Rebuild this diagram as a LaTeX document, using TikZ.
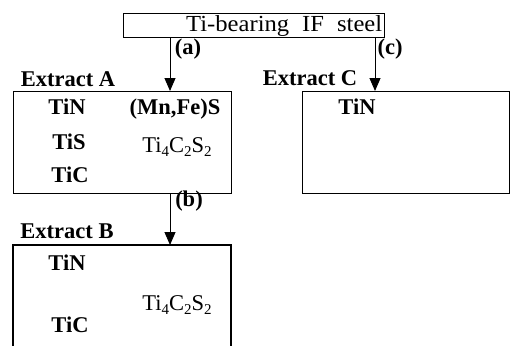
\documentclass[tikz,border=0pt]{standalone}
\usepackage{fontspec}
\setmainfont{Liberation Serif}
\usetikzlibrary{arrows.meta}
\newcommand{\sbs}[1]{\raisebox{-4.5pt}{\fontsize{15}{15}\selectfont #1}}
\newcommand{\wideword}[1]{\scalebox{1.07}[1]{#1}}
\begin{document}
\begin{tikzpicture}[x=1pt,y=-1pt,
  boxline/.style={draw, line width=1.1pt},
  bx/.style={boxline, inner sep=0pt, anchor=north west},
  lbl/.style={font=\fontsize{22.5}{24}\selectfont\bfseries, inner sep=0pt, anchor=base},
  chem/.style={font=\fontsize{22.5}{24}\selectfont\bfseries, inner sep=0pt, anchor=base},
  chemr/.style={font=\fontsize{22.5}{24}\selectfont, inner sep=0pt, anchor=base},
  topfont/.style={font=\fontsize{23}{24}\selectfont, inner sep=0pt},
  arr/.style={line width=1pt, -{Triangle[length=13pt,width=11pt]}}]
\useasboundingbox (0,0) rectangle (510,345);
% boxes
\node[bx, minimum width=261pt, minimum height=24pt] (top) at (123,13) {};
\node[bx, minimum width=218pt, minimum height=102pt] (boxA) at (13,91) {};
\node[bx, minimum width=207pt, minimum height=102pt] (boxC) at (302,91) {};
\coordinate (bNW) at (13,245);
\coordinate (bNE) at (231,245);
\coordinate (bSW) at (13,346);
\coordinate (bSE) at (231,346);
\draw[boxline] (bSW) -- (bNW) -- (bNE) -- (bSE);
% top text
\node[topfont, anchor=base west] (toptext) at (186,31) {\hbox to 196pt{\wideword{Ti-bearing}\hfill\wideword{IF}\hfill\wideword{steel}}};
% arrows
\coordinate (xa) at (170,0);
\coordinate (xc) at (375,0);
\draw[arr] (top.south -| xa) -- (boxA.north -| xa);
\draw[arr] (top.south -| xc) -- (boxC.north -| xc);
\draw[arr] (boxA.south -| xa) -- (bNW -| xa);
\node[lbl] (la) at (188,54) {(a)};
\node[lbl] (lc) at (390,54) {(c)};
\node[lbl] (lb) at (189,206) {(b)};
% extract labels
\node[lbl] (exA) at (68,86) {Extract A};
\node[lbl] (exB) at (67,238) {Extract B};
\node[lbl] (exC) at (310,85) {Extract C};
% box A contents
\node[chem] (a1) at (67,114) {TiN};
\node[chem] (a2) at (69,149) {TiS};
\node[chem] (a3) at (70,182) {TiC};
\node[chem] (a4) at (175,114) {(Mn,Fe)S};
\node[chemr] (a5) at (177,152) {Ti\sbs{4}C\sbs{2}S\sbs{2}};
% box C contents
\node[chem] (c1) at (357,114) {TiN};
% box B contents
\node[chem] (b1) at (67,270) {TiN};
\node[chemr] (b2) at (177,310) {Ti\sbs{4}C\sbs{2}S\sbs{2}};
\node[chem] (b3) at (70,332) {TiC};
\end{tikzpicture}
\end{document}
